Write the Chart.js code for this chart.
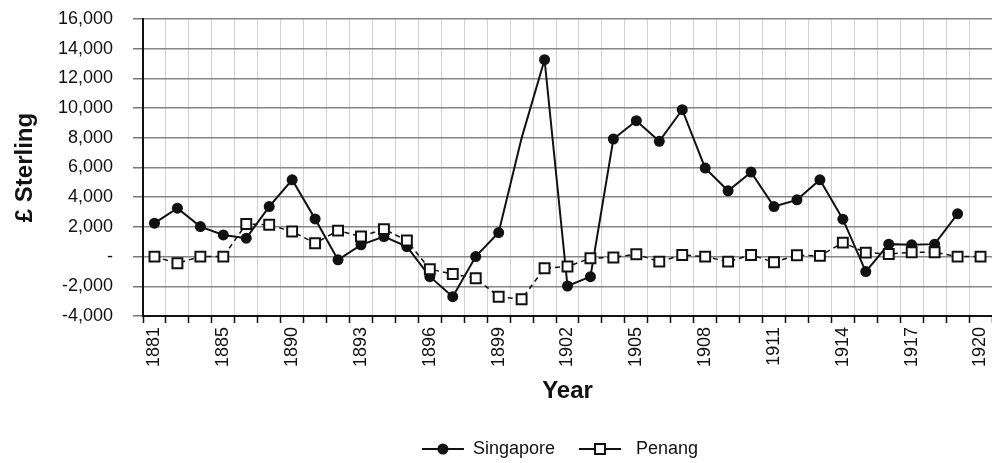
<!DOCTYPE html>
<html>
<head>
<meta charset="utf-8">
<script src="https://cdn.jsdelivr.net/npm/chart.js@4.4.1/dist/chart.umd.min.js"></script>
<style>
  html, body { margin: 0; padding: 0; background: #fff; overflow: hidden; }
</style>
</head>
<body>
<canvas id="chart" width="992" height="463"></canvas>
<script>
// years on the category axis (the source skips a few early years)
const years = ['1881', '1883', '1884', '1885', '1887', '1888', '1890', '1891', '1892', '1893',
    '1894', '1895', '1896', '1897', '1898', '1899', '1900', '1901', '1902', '1903',
    '1904', '1905', '1906', '1907', '1908', '1909', '1910', '1911', '1912', '1913',
    '1914', '1915', '1916', '1917', '1918', '1919', '1920'];

// £ sterling
const singapore = [2250, 3260, 2020, 1460, 1240, 3370, 5170, 2540, -220, 790,
    1350, 670, -1350, -2700, 0, 1620, 7980, 13260, -1980, -1350,
    7920, 9150, 7760, 9890, 5960, 4430, 5690, 3370, 3820, 5170,
    2520, -1010, 840, 790, 840, 2880, null];

const penang = [0, -450, 0, 0, 2200, 2140, 1690, 900, 1750, 1350,
    1850, 1080, -850, -1170, -1460, -2700, -2870, -780, -670, -110,
    -60, 160, -340, 110, 0, -340, 110, -380, 90, 50,
    940, 270, 180, 290, 290, 0, 0];

// years where the Singapore line has no marker in the source
const singaporeNoMarker = ['1900'];

const yTicks = [-4000, -2000, 0, 2000, 4000, 6000, 8000, 10000, 12000, 14000, 16000];

const sans = "'Liberation Sans', Arial, sans-serif";
const narrow = "'Liberation Sans Narrow', 'Liberation Sans', Arial, sans-serif";

// legend drawn as line + marker + text, like the original
const lineLegend = {
    id: 'lineLegend',
    afterDraw(chart) {
        const ctx = chart.ctx;
        const y = 449;
        const items = [
            { text: 'Singapore', marker: 'circle', gap: 9 },
            { text: 'Penang', marker: 'rect', gap: 15 }
        ];
        ctx.save();
        ctx.font = '18px ' + sans;
        const seg = 42, gapItem = 24;
        let total = 0;
        items.forEach((it, i) => {
            it.w = ctx.measureText(it.text).width;
            total += seg + it.gap + it.w + (i ? gapItem : 0);
        });
        let x = 560 - total / 2;
        items.forEach((it, i) => {
            if (i) x += gapItem;
            ctx.strokeStyle = '#111';
            ctx.lineWidth = 2;
            ctx.beginPath();
            ctx.moveTo(x, y);
            ctx.lineTo(x + seg, y);
            ctx.stroke();
            const cx = x + seg / 2;
            if (it.marker === 'circle') {
                ctx.fillStyle = '#111';
                ctx.beginPath();
                ctx.arc(cx, y, 5.5, 0, Math.PI * 2);
                ctx.fill();
            } else {
                ctx.fillStyle = '#fff';
                ctx.fillRect(cx - 5, y - 5, 10, 10);
                ctx.strokeRect(cx - 5, y - 5, 10, 10);
            }
            ctx.fillStyle = '#111';
            ctx.textBaseline = 'middle';
            ctx.textAlign = 'left';
            ctx.fillText(it.text, x + seg + it.gap, y);
            x += seg + it.gap + it.w;
        });
        ctx.restore();
    }
};

const ctx = document.getElementById('chart').getContext('2d');

new Chart(ctx, {
    type: 'line',
    data: {
        labels: years,
        datasets: [{
            label: 'Singapore',
            data: singapore,
            borderColor: '#111',
            borderWidth: 2,
            tension: 0,
            pointStyle: 'circle',
            pointRadius: c => singaporeNoMarker.includes(years[c.dataIndex]) ? 0 : 5.5,
            pointBackgroundColor: '#111',
            pointBorderColor: '#111',
            pointBorderWidth: 0,
            order: 1
        }, {
            label: 'Penang',
            data: penang,
            borderColor: '#111',
            borderWidth: 1.5,
            borderDash: [5, 4],
            tension: 0,
            pointStyle: 'rect',
            pointRadius: 7,
            pointBackgroundColor: '#fff',
            pointBorderColor: '#111',
            pointBorderWidth: 2,
            order: 0
        }]
    },
    options: {
        responsive: false,
        animation: false,
        layout: { autoPadding: false, padding: { top: 19, right: -2, bottom: 52, left: 0 } },
        plugins: {
            legend: { display: false },
            tooltip: { enabled: false }
        },
        scales: {
            x: {
                offset: true,
                grid: {
                    offset: true,
                    color: '#d2d2d2',
                    lineWidth: 1,
                    tickColor: '#111',
                    tickWidth: 1.5,
                    tickLength: 7
                },
                border: { color: '#111', width: 2 },
                ticks: {
                    autoSkip: false,
                    minRotation: 90,
                    maxRotation: 90,
                    padding: 4,
                    color: '#111',
                    font: { size: 18, family: sans },
                    callback: function (v, i) {
                        return i % 3 === 0 ? this.getLabelForValue(v) : '';
                    }
                },
                title: {
                    display: true,
                    text: 'Year',
                    color: '#111',
                    font: { size: 24, weight: 'bold', family: narrow },
                    padding: { top: 0, bottom: 5 }
                },
                afterFit(scale) {
                    scale.height = 95;
                    scale.paddingLeft = 0;
                    scale.paddingRight = 0;
                }
            },
            y: {
                min: -4000,
                max: 16000,
                afterBuildTicks(scale) {
                    scale.ticks = yTicks.map(v => ({ value: v }));
                },
                grid: {
                    color: '#858585',
                    lineWidth: 1.5,
                    tickColor: '#777',
                    tickLength: 10
                },
                border: { color: '#111', width: 2 },
                ticks: {
                    padding: 20,
                    color: '#111',
                    font: { size: 18, family: sans },
                    callback: v => v === 0 ? '-' : v.toLocaleString('en-US')
                },
                title: {
                    display: true,
                    text: '£ Sterling',
                    color: '#111',
                    font: { size: 24, weight: 'bold', family: narrow },
                    padding: { top: 11, bottom: 0 }
                },
                afterFit(scale) {
                    scale.width = 143;
                    scale.paddingTop = 0;
                    scale.paddingBottom = 0;
                }
            }
        }
    },
    plugins: [lineLegend]
});
</script>
</body>
</html>
